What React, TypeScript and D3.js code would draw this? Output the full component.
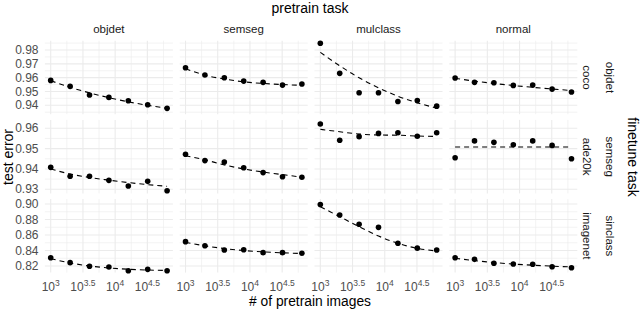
import React from "react";
import * as d3 from "d3";

// pretrain task columns, finetune rows
const pretrainTasks = ["objdet", "semseg", "mulclass", "normal"];
const finetuneData = ["coco", "ade20k", "imagenet"];
const finetuneTasks = ["objdet", "semseg", "sinclass"];

// number of pretrain images (x)
const nImages = [1000, 2000, 4000, 8000, 16000, 32000, 64000];
const xTickExp = ["3", "3.5", "4", "4.5"];

// test error per row, one array per pretrain task
const errCoco = [
  [0.958, 0.9537, 0.9474, 0.9457, 0.9433, 0.9404, 0.9378],
  [0.9672, 0.9619, 0.9599, 0.9575, 0.9566, 0.9546, 0.9554],
  [0.9849, 0.9631, 0.9491, 0.9491, 0.9428, 0.9434, 0.9394],
  [0.9597, 0.9566, 0.9563, 0.9544, 0.9546, 0.9517, 0.9496],
];
const fitCoco = [
  [0.9578, 0.953, 0.949, 0.9455, 0.9425, 0.94, 0.9378],
  [0.9665, 0.9618, 0.959, 0.957, 0.9558, 0.955, 0.9545],
  [0.9783, 0.9686, 0.9599, 0.9526, 0.9466, 0.9418, 0.938],
  [0.9595, 0.9575, 0.9558, 0.9543, 0.953, 0.9518, 0.9507],
];
const errAde = [
  [0.9408, 0.9364, 0.9364, 0.9344, 0.9316, 0.9339, 0.9293],
  [0.9472, 0.9441, 0.9434, 0.9406, 0.9382, 0.9362, 0.9359],
  [0.9621, 0.9541, 0.9559, 0.9575, 0.9578, 0.9561, 0.9578],
  [0.9455, 0.9538, 0.9531, 0.9519, 0.9538, 0.9516, 0.945],
];
const fitAde = [
  [0.94, 0.9375, 0.9358, 0.9345, 0.9333, 0.9323, 0.9315],
  [0.9465, 0.9445, 0.942, 0.94, 0.9385, 0.9372, 0.936],
  [0.9595, 0.9583, 0.9572, 0.9567, 0.9566, 0.9562, 0.956],
  [0.9508, 0.9508, 0.9508, 0.9508, 0.9508, 0.9508, 0.9508],
];
const errImagenet = [
  [0.8307, 0.8243, 0.8196, 0.8187, 0.8139, 0.8157, 0.8139],
  [0.8514, 0.8462, 0.8406, 0.841, 0.8372, 0.8372, 0.8364],
  [0.8994, 0.8858, 0.8738, 0.8699, 0.8493, 0.843, 0.8406],
  [0.8307, 0.8286, 0.8235, 0.8226, 0.8222, 0.8191, 0.8178],
];
const fitImagenet = [
  [0.8295, 0.824, 0.82, 0.8175, 0.8158, 0.8148, 0.8142],
  [0.8505, 0.846, 0.8425, 0.84, 0.8382, 0.837, 0.8362],
  [0.8965, 0.8836, 0.8707, 0.8587, 0.8493, 0.8428, 0.8394],
  [0.83, 0.827, 0.8245, 0.8225, 0.821, 0.8198, 0.8188],
];

const rowErr = [errCoco, errAde, errImagenet];
const rowFit = [fitCoco, fitAde, fitImagenet];
const rowDomain: [number, number][] = [
  [0.93356, 0.98673],
  [0.92798, 0.96413],
  [0.81148, 0.90632],
];
const rowTicks = [
  [0.94, 0.95, 0.96, 0.97, 0.98],
  [0.93, 0.94, 0.95, 0.96],
  [0.82, 0.84, 0.86, 0.88, 0.9],
];
const rowStep = [0.01, 0.01, 0.02];

const FONT = "'Liberation Sans', Arial, Helvetica, sans-serif";
const LEFT = 44.9;
const PW = 128;
const COLSTEP = 134.8;
const TOP = 40.7;
const PH = 73.5;
const ROWSTEP = 79.2;

export default function App() {
  const x = d3.scaleLinear().domain([2.9097, 4.8963]).range([0, PW]);
  const xTicks = xTickExp.map(Number);
  const xMinor = d3.range(3.25, 4.9, 0.5);

  return (
    <svg
      width={640}
      height={312}
      style={{ position: "absolute", left: 0, top: 0, background: "#fff" }}
      fontFamily={FONT}
    >
      <text x={310} y={13} textAnchor="middle" fontSize={14}>pretrain task</text>
      <text transform={`translate(13,157) rotate(-90)`} textAnchor="middle" fontSize={14}>test error</text>
      <text x={310} y={306} textAnchor="middle" fontSize={13.8}># of pretrain images</text>
      <text transform={`translate(628,157) rotate(90)`} textAnchor="middle" fontSize={14}>finetune task</text>

      {pretrainTasks.map((t, c) => (
        <text key={t} x={LEFT + c * COLSTEP + PW / 2} y={33} textAnchor="middle" fontSize={11.5} fill="#1a1a1a">
          {t}
        </text>
      ))}

      {finetuneData.map((ds, r) => {
        const y = d3.scaleLinear().domain(rowDomain[r]).range([PH, 0]);
        const top = TOP + r * ROWSTEP;
        const ticks = rowTicks[r];
        const minor = ticks.map((v) => v - rowStep[r] / 2).concat([ticks[ticks.length - 1] + rowStep[r] / 2])
          .filter((v) => v >= rowDomain[r][0] && v <= rowDomain[r][1]);
        return (
          <g key={ds}>
            {ticks.map((v) => (
              <text key={v} x={38.5} y={top + y(v)} dy="0.35em" textAnchor="end" fontSize={12} fill="#4d4d4d">
                {v.toFixed(2)}
              </text>
            ))}
            <text transform={`translate(587,${top + PH / 2}) rotate(90)`} textAnchor="middle" dy="0.35em" fontSize={11.5} fill="#1a1a1a">
              {ds}
            </text>
            <text transform={`translate(610,${top + PH / 2}) rotate(90)`} textAnchor="middle" dy="0.35em" fontSize={11.5} fill="#1a1a1a">
              {finetuneTasks[r]}
            </text>
            {pretrainTasks.map((t, c) => {
              const left = LEFT + c * COLSTEP;
              const pts = nImages.map((n, i) => ({ lx: Math.log10(n), e: rowErr[r][c][i], f: rowFit[r][c][i] }));
              const line = d3.line<any>().x((d) => x(d.lx)).y((d) => y(d.f)).curve(d3.curveMonotoneX);
              return (
                <g key={t} transform={`translate(${left},${top})`}>
                  {minor.map((v) => (
                    <line key={"ym" + v} x1={0} x2={PW} y1={y(v)} y2={y(v)} stroke="#ebebeb" strokeWidth={0.6} />
                  ))}
                  {xMinor.map((v) => (
                    <line key={"xm" + v} x1={x(v)} x2={x(v)} y1={0} y2={PH} stroke="#ebebeb" strokeWidth={0.6} />
                  ))}
                  {ticks.map((v) => (
                    <line key={"y" + v} x1={0} x2={PW} y1={y(v)} y2={y(v)} stroke="#ebebeb" strokeWidth={1.1} />
                  ))}
                  {xTicks.map((v) => (
                    <line key={"x" + v} x1={x(v)} x2={x(v)} y1={0} y2={PH} stroke="#ebebeb" strokeWidth={1.1} />
                  ))}
                  <path d={line(pts) || ""} fill="none" stroke="#000" strokeWidth={1.1} strokeDasharray="5,4" />
                  {pts.map((p, i) => (
                    <circle key={i} cx={x(p.lx)} cy={y(p.e)} r={2.8} fill="#000" />
                  ))}
                  {r === 2 &&
                    xTicks.map((v, i) => (
                      <text key={"xt" + v} x={x(v)} y={PH + 18} textAnchor="middle" fontSize={12} fill="#4d4d4d">
                        <tspan>10</tspan>
                        <tspan fontSize={8.5} dy={-5}>{xTickExp[i]}</tspan>
                      </text>
                    ))}
                </g>
              );
            })}
          </g>
        );
      })}
    </svg>
  );
}
